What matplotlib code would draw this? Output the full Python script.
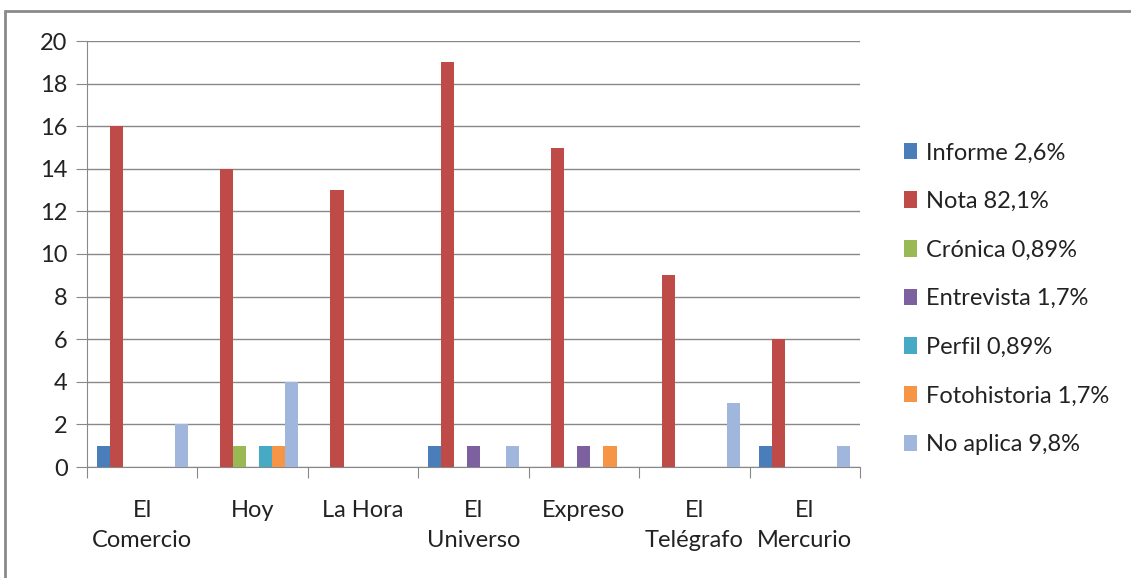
import matplotlib.pyplot as plt
import numpy as np
from matplotlib.patches import Rectangle

# data
categories = ["El\nComercio", "Hoy", "La Hora", "El\nUniverso", "Expreso", "El\nTelégrafo", "El\nMercurio"]
series_names = ["Informe 2,6%", "Nota 82,1%", "Crónica 0,89%", "Entrevista 1,7%",
                "Perfil 0,89%", "Fotohistoria 1,7%", "No aplica 9,8%"]
informe = [1, 0, 0, 1, 0, 0, 1]
nota = [16, 14, 13, 19, 15, 9, 6]
cronica = [0, 1, 0, 0, 0, 0, 0]
entrevista = [0, 0, 0, 1, 1, 0, 0]
perfil = [0, 1, 0, 0, 0, 0, 0]
fotohistoria = [0, 1, 0, 0, 1, 0, 0]
no_aplica = [2, 4, 0, 1, 0, 3, 1]
colors = ["#4A7EBB", "#BE4B48", "#98B954", "#7D60A0", "#46AAC5", "#F69546", "#A0B6DC"]

plt.rcParams['font.family'] = ['Lato', 'DejaVu Sans']
FS = 17

fig = plt.figure(figsize=(11.31, 5.78), dpi=100)
# outer chart border (runs off the right and bottom edge like the source)
fig.patches.append(Rectangle((5/1131, -0.05), 1.2, 1 - 11/578 + 0.05, transform=fig.transFigure,
                             fill=False, edgecolor="#8a8a8a", linewidth=2))

ax = fig.add_axes([87/1131, 1 - 467/578, (860-87)/1131, (467-41)/578])

all_series = [informe, nota, cronica, entrevista, perfil, fotohistoria, no_aplica]
x = np.arange(len(categories))
w = 0.118
for i, vals in enumerate(all_series):
    ax.bar(x + (i - 3) * w, vals, width=w, color=colors[i], label=series_names[i], zorder=3)

ax.set_xlim(-0.5, len(categories) - 0.5)
ax.set_ylim(0, 20)
ax.set_yticks(range(0, 21, 2))
ax.yaxis.grid(True, color="#888888", linewidth=1, zorder=0)
for s in ["top", "right"]:
    ax.spines[s].set_visible(False)
for s in ["left", "bottom"]:
    ax.spines[s].set_color("#888888")
ax.set_xticks(np.arange(-0.5, len(categories), 1))
ax.set_xticklabels([])
ax.tick_params(axis="x", length=8, color="#888888")
ax.tick_params(axis="y", length=8, color="#888888", labelsize=FS, pad=6, labelcolor="#222222")
for xi, lab in zip(x, categories):
    ax.text(xi, -1.55, lab, ha="center", va="top", fontsize=FS, color="#222222", linespacing=1.5)

leg = ax.legend(loc="center left", bbox_to_anchor=(1.03, 0.395), frameon=False, fontsize=FS,
                handlelength=0.55, handleheight=0.7, handletextpad=0.35, labelspacing=1.17)
for t in leg.get_texts():
    t.set_color("#222222")

plt.savefig("out.png", dpi=100)
